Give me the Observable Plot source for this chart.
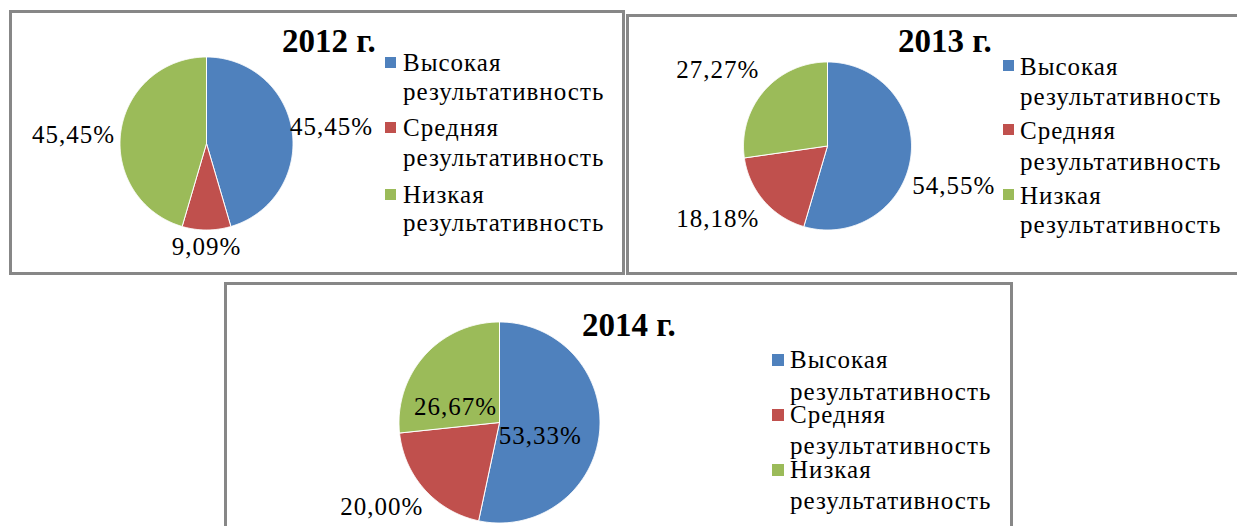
<!DOCTYPE html>
<html><head><meta charset="utf-8">
<script src="https://cdn.jsdelivr.net/npm/d3@7"></script>
<script src="https://cdn.jsdelivr.net/npm/@observablehq/plot@0.6"></script>
<style>
html,body{margin:0;padding:0;background:#fff;overflow:hidden;width:1237px;height:526px;}
.panel{position:absolute;border:3px solid #878787;box-sizing:border-box;background:#fff;}
.panel svg{position:absolute;left:0;top:0;overflow:visible;}
.title{position:absolute;font-family:"Liberation Serif",serif;font-weight:bold;font-size:33px;line-height:33px;white-space:nowrap;color:#000;}
.line{position:absolute;font-family:"Liberation Serif",serif;font-size:25px;line-height:20px;height:20px;letter-spacing:1px;white-space:nowrap;color:#000;}
.sw{position:absolute;}
</style></head><body>
<script>
// ---- data ----
const categories = ["Высокая результативность", "Средняя результативность", "Низкая результативность"];
const colors = ["#4F81BD", "#C0504D", "#9BBB59"];
const years = ["2012 г.", "2013 г.", "2014 г."];
const values2012 = [45.45, 9.09, 45.45];
const values2013 = [54.55, 18.18, 27.27];
const values2014 = [53.33, 20.00, 26.67];
const seriesValues = [values2012, values2013, values2014];

// ---- layout (positions/sizes, kept apart from the data) ----
const layout = [
  {left: 9, top: 10, width: 616, height: 265, cx: 194, cy: 130, r: 86.5,
   title: [270, 12.4],
   legend: {sw: 373, text: 391, baselines: [[58, 87], [123, 153], [190, 218]], swUp: 14, swSize: 11},
   labels: [{t: .49, k: .98}, {t: .5, k: 1.05}, {t: .48, k: 1.06}]},
  {left: 626, top: 14, width: 620, height: 261, cx: 198, cy: 128.5, r: 84,
   title: [269, 8.4],
   legend: {sw: 374, text: 391, baselines: [[58, 88], [122, 153], [187, 216]], swUp: 15, swSize: 11},
   labels: [{t: .572, k: 1.09}, {t: .46, k: 1.12}, {t: .537, k: 1.14}]},
  {left: 224, top: 282, width: 789, height: 260, cx: 272, cy: 137, r: 100.5,
   title: [355, 24.4],
   legend: {sw: 545, text: 563, baselines: [[83, 115], [138, 169], [193, 224]], swUp: 14, swSize: 12},
   labels: [{t: .567, k: .43, inside: true}, {t: .46, k: 1.07}, {t: .27, k: .466, inside: true}]}
];

const fmt = v => d3.format(".2f")(v).replace(".", ",") + "%";
const serif = '"Liberation Serif", serif';
const labelSize = 25;
const lineBaseline = 18.44; // baseline offset inside a 20px line box at 25px

years.forEach((year, p) => {
  const L = layout[p];
  const values = seriesValues[p];
  const W = L.width - 6, H = L.height - 6;

  const panel = document.createElement("div");
  panel.className = "panel";
  Object.assign(panel.style, {left: L.left + "px", top: L.top + "px", width: L.width + "px", height: L.height + "px"});
  document.body.appendChild(panel);

  const arcs = d3.pie().sort(null).value(d => d)(values);
  const slicePts = [];
  const labelData = [];
  arcs.forEach((a, i) => {
    const cat = categories[i];
    const a0 = a.startAngle, a1 = a.endAngle;
    const n = Math.max(2, Math.ceil((a1 - a0) / (Math.PI / 360)));
    slicePts.push({cat, x: 0, y: 0});
    for (let j = 0; j <= n; j++) {
      const t = a0 + (a1 - a0) * j / n;
      slicePts.push({cat, x: Math.sin(t), y: Math.cos(t)});
    }
    slicePts.push({cat, x: 0, y: 0});
    const lp = L.labels[i];
    const th = a0 + lp.t * (a1 - a0);
    const s = Math.sin(th), c = Math.cos(th);
    let d;
    if (lp.inside) {
      d = {x: lp.k * s, y: lp.k * c, anchor: "middle"};
    } else {
      d = {x: lp.k * s, y: c * (lp.k + (labelSize / 2) / L.r), anchor: s > 0.3 ? "start" : s < -0.3 ? "end" : "middle"};
    }
    d.label = fmt(values[i]);
    labelData.push(d);
  });

  const chart = Plot.plot({
    width: W, height: H, margin: 0,
    x: {domain: [-L.cx / L.r, (W - L.cx) / L.r], axis: null},
    y: {domain: [-(H - L.cy) / L.r, L.cy / L.r], axis: null},
    color: {domain: categories, range: colors},
    style: {background: "transparent", overflow: "visible", fontFamily: serif, letterSpacing: "1px"},
    marks: [
      Plot.line(slicePts, {x: "x", y: "y", z: "cat", fill: "cat", stroke: "white", strokeWidth: 1, curve: "linear"}),
      ...["start", "end", "middle"].map(an =>
        Plot.text(labelData.filter(d => d.anchor === an), {
          x: "x", y: "y", text: "label", textAnchor: an, lineAnchor: "middle",
          fontSize: labelSize, fontFamily: serif, fill: "black"
        }))
    ]
  });
  panel.appendChild(chart);

  const title = document.createElement("div");
  title.className = "title";
  title.textContent = year;
  title.style.left = L.title[0] + "px";
  title.style.top = L.title[1] + "px";
  panel.appendChild(title);

  categories.forEach((cat, i) => {
    const bl = L.legend.baselines[i];
    const sw = document.createElement("div");
    sw.className = "sw";
    Object.assign(sw.style, {left: L.legend.sw + "px", top: (bl[0] - L.legend.swUp) + "px",
      width: L.legend.swSize + "px", height: L.legend.swSize + "px", background: colors[i]});
    panel.appendChild(sw);
    cat.split(" ").forEach((word, j) => {
      const line = document.createElement("div");
      line.className = "line";
      line.textContent = word;
      line.style.left = L.legend.text + "px";
      line.style.top = (bl[j] - lineBaseline) + "px";
      panel.appendChild(line);
    });
  });
});
</script>
</body></html>
